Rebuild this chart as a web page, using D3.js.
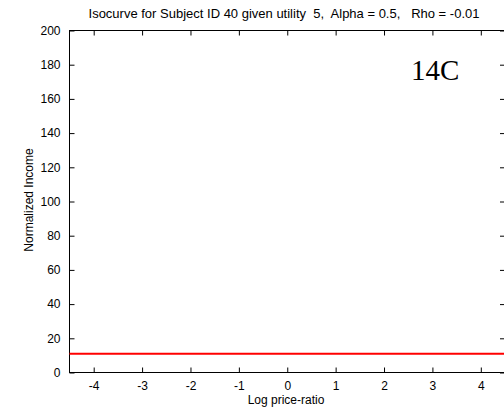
<!DOCTYPE html>
<html>
<head>
<meta charset="utf-8">
<script src="https://cdn.jsdelivr.net/npm/d3@7"></script>
<style>
  html, body { margin: 0; padding: 0; background: #fff; }
  svg { display: block; }
  text { fill: #000; white-space: pre; }
</style>
</head>
<body>
<svg id="chart" width="504" height="413"></svg>
<script>
// Data
const lineX = [-4.5, 4.5];
const lineY = [11, 11];
const xTicks = [-4, -3, -2, -1, 0, 1, 2, 3, 4];
const yTicks = [0, 20, 40, 60, 80, 100, 120, 140, 160, 180, 200];
const xDomain = [-4.5, 4.5];
const yDomain = [0, 200];
const titleText = "Isocurve for Subject ID 40 given utility  5,  Alpha = 0.5,   Rho = -0.01";
const xLabel = "Log price-ratio";
const yLabel = "Normalized Income";
const annotation = "14C";

const SANS = "\"Liberation Sans\", Arial, sans-serif";
const SERIF = "\"Liberation Serif\", \"Times New Roman\", serif";

const svg = d3.select("#chart");
const L = 69.5, R = 505, T = 30.5, B = 372.5;
const x = d3.scaleLinear().domain(xDomain).range([L, R]);
const y = d3.scaleLinear().domain(yDomain).range([B, T]);

// box
svg.append("rect").attr("x", L).attr("y", T).attr("width", R - L).attr("height", B - T)
  .attr("fill", "#fff").attr("stroke", "#000").attr("stroke-width", 1);

const fmt = d => String(d);

// bottom axis
const gx = svg.append("g").attr("transform", `translate(0,${B})`)
  .call(d3.axisBottom(x).tickValues(xTicks).tickSizeInner(-5).tickSizeOuter(0).tickPadding(9).tickFormat(fmt));
// top ticks
const gxt = svg.append("g").attr("transform", `translate(0,${T})`)
  .call(d3.axisTop(x).tickValues(xTicks).tickSizeInner(-5).tickSizeOuter(0).tickFormat(""));
// left axis
const gy = svg.append("g").attr("transform", `translate(${L},0)`)
  .call(d3.axisLeft(y).tickValues(yTicks).tickSizeInner(-5).tickSizeOuter(0).tickPadding(9).tickFormat(fmt));
// right ticks
const gyr = svg.append("g").attr("transform", `translate(${R},0)`)
  .call(d3.axisRight(y).tickValues(yTicks).tickSizeInner(-5).tickSizeOuter(0).tickFormat(""));

[gx, gxt, gy, gyr].forEach(g => {
  g.select(".domain").remove();
  g.selectAll("line").attr("stroke", "#000");
  g.selectAll("text").style("font-size", "12px").style("font-family", SANS).attr("fill", "#000");
});

// red line
svg.append("path")
  .datum(lineX.map((d, i) => [d, lineY[i]]))
  .attr("d", d3.line().x(d => x(d[0])).y(d => y(d[1])))
  .attr("stroke", "#ff0000").attr("stroke-width", 2).attr("fill", "none");

// title
svg.append("text").attr("x", 284).attr("y", 18).attr("text-anchor", "middle")
  .style("font-size", "13px").style("font-family", SANS).text(titleText);
// x label
svg.append("text").attr("x", 286).attr("y", 404).attr("text-anchor", "middle")
  .style("font-size", "12px").style("font-family", SANS).text(xLabel);
// y label
svg.append("text").attr("transform", "translate(33,200) rotate(-90)").attr("text-anchor", "middle")
  .style("font-size", "12px").style("font-family", SANS).text(yLabel);
// annotation
svg.append("text").attr("x", 411).attr("y", 80)
  .style("font-family", SERIF).style("font-size", "29px").text(annotation);
</script>
</body>
</html>
